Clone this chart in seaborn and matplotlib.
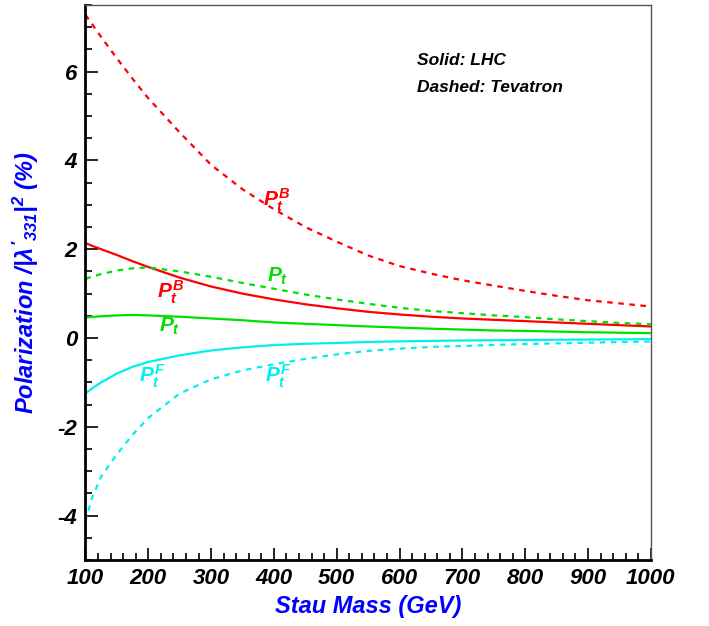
import matplotlib
matplotlib.use("Agg")
import matplotlib.pyplot as plt
import seaborn as sns
import pandas as pd

# stau mass grid (GeV)
mass = [100, 110, 125, 150, 175, 200, 250, 300, 350, 400, 450, 500, 550,
        600, 650, 700, 750, 800, 850, 900, 950, 1000]

# polarization / |lambda'_331|^2 (%)
lhc_pb = [2.14, 2.08, 2.0, 1.87, 1.73, 1.6, 1.36, 1.16, 1.0, 0.87, 0.76, 0.67, 0.59,
          0.53, 0.48, 0.44, 0.41, 0.38, 0.35, 0.32, 0.29, 0.26]
lhc_p = [0.46, 0.475, 0.49, 0.51, 0.52, 0.51, 0.48, 0.44, 0.40, 0.35, 0.32, 0.29, 0.26,
         0.235, 0.21, 0.19, 0.17, 0.16, 0.145, 0.13, 0.12, 0.11]
lhc_pf = [-1.25, -1.14, -1.0, -0.80, -0.65, -0.54, -0.39, -0.28, -0.21, -0.16, -0.13, -0.11, -0.09,
          -0.075, -0.065, -0.055, -0.05, -0.045, -0.04, -0.035, -0.03, -0.025]
tev_pb = [7.28, 7.08, 6.78, 6.3, 5.84, 5.4, 4.63, 3.9, 3.35, 2.9, 2.5, 2.17, 1.86,
          1.62, 1.45, 1.3, 1.18, 1.06, 0.95, 0.85, 0.78, 0.71]
tev_p = [1.33, 1.38, 1.44, 1.52, 1.57, 1.59, 1.50, 1.38, 1.24, 1.11, 0.98, 0.87, 0.77,
         0.68, 0.61, 0.56, 0.51, 0.47, 0.42, 0.38, 0.34, 0.31]
tev_pf = [-4.13, -3.62, -3.12, -2.62, -2.18, -1.80, -1.25, -0.93, -0.73, -0.59, -0.47, -0.37, -0.29,
          -0.24, -0.20, -0.18, -0.155, -0.135, -0.12, -0.105, -0.09, -0.08]

sns.set_style("ticks")
plt.rcParams['font.family'] = ['Liberation Sans', 'DejaVu Sans']
plt.rcParams['font.weight'] = 'bold'
plt.rcParams['font.style'] = 'italic'
plt.rcParams['text.color'] = 'black'
plt.rcParams['axes.unicode_minus'] = False
plt.rcParams['mathtext.fontset'] = 'custom'
plt.rcParams['mathtext.it'] = 'Liberation Sans:italic:bold'
plt.rcParams['mathtext.rm'] = 'Liberation Sans:italic:bold'
plt.rcParams['mathtext.bf'] = 'Liberation Sans:italic:bold'

RED = "#ff0000"
GREEN = "#00e000"
CYAN = "#00f0f0"
BLUE = "#0000ff"

fig = plt.figure(figsize=(7.09, 6.26), dpi=100)
ax = fig.add_axes([0.1205, 0.1054, 0.7975, 0.8866])

df = pd.DataFrame({"mass": mass, "lhc_pb": lhc_pb, "lhc_p": lhc_p, "lhc_pf": lhc_pf,
                   "tev_pb": tev_pb, "tev_p": tev_p, "tev_pf": tev_pf})

# solid = LHC, dashed = Tevatron
for col, color in [("lhc_pb", RED), ("lhc_p", GREEN), ("lhc_pf", CYAN)]:
    sns.lineplot(data=df, x="mass", y=col, color=color, lw=1.6, ax=ax)
for col, color in [("tev_pb", RED), ("tev_p", GREEN), ("tev_pf", CYAN)]:
    sns.lineplot(data=df, x="mass", y=col, color=color, lw=1.6, ax=ax,
                 dashes=False, linestyle=(0, (2.5, 2.5)))

ax.set_xlim(100, 1000)
ax.set_ylim(-5, 7.5)
ax.set_xticks(range(100, 1001, 100))
ax.set_xticks(range(100, 1001, 20), minor=True)
ax.set_yticks([-4, -2, 0, 2, 4, 6])
ax.set_yticks([y * 0.5 for y in range(-10, 16)], minor=True)

ax.tick_params(which='both', direction='in', top=False, right=False, width=1.2,
               color='black', labelcolor='black')
ax.tick_params(which='major', length=9, labelsize=16, pad=6)
ax.tick_params(which='minor', length=5)
for lbl in ax.get_xticklabels() + ax.get_yticklabels():
    lbl.set_fontweight('bold')
    lbl.set_fontstyle('italic')

for side in ['left', 'bottom']:
    ax.spines[side].set_linewidth(2)
    ax.spines[side].set_color('black')
for side in ['top', 'right']:
    ax.spines[side].set_linewidth(1)
    ax.spines[side].set_color('#555555')

ax.set_xlabel("Stau Mass (GeV)", fontsize=17, color=BLUE, fontweight='bold', fontstyle='italic')
ax.set_ylabel(r"Polarization /|$\lambda'_{331}$|$^2$ (%)", fontsize=17, color=BLUE,
              fontweight='bold', fontstyle='italic')
ax.xaxis.set_label_coords(0.5, -0.063)
ax.yaxis.set_label_coords(-0.078, 0.5)

# curve labels
ax.text(383, 2.97, r"$P_t^B$", color=RED, fontsize=15)
ax.text(214, 0.9, r"$P_t^B$", color=RED, fontsize=15)
ax.text(389, 1.27, r"$P_t$", color=GREEN, fontsize=15)
ax.text(217, 0.15, r"$P_t$", color=GREEN, fontsize=15)
ax.text(185, -1.0, r"$P_t^F$", color=CYAN, fontsize=15)
ax.text(386, -1.0, r"$P_t^F$", color=CYAN, fontsize=15)

ax.text(627, 6.15, "Solid: LHC", fontsize=12.5, fontweight='bold', fontstyle='italic')
ax.text(627, 5.55, "Dashed: Tevatron", fontsize=12.5, fontweight='bold', fontstyle='italic')

fig.savefig("out.png", dpi=100)
